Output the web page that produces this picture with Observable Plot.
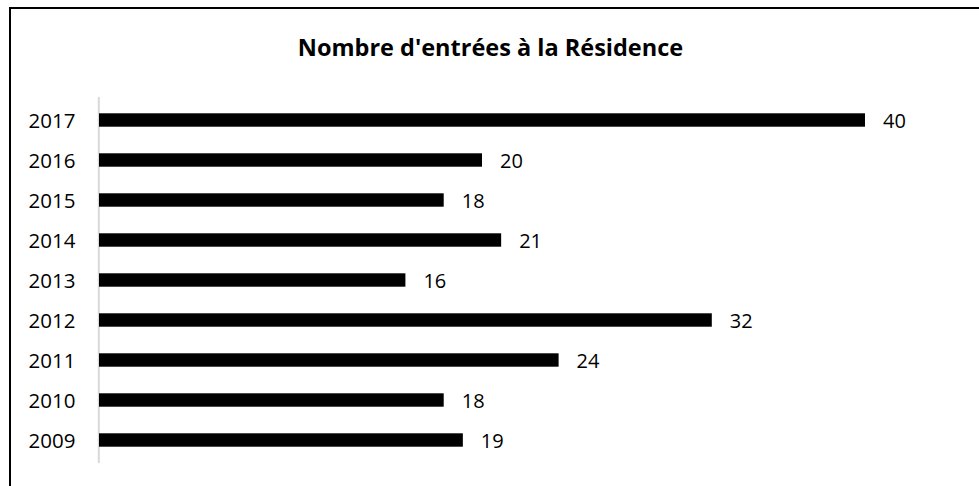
<!DOCTYPE html>
<html>
<head>
<meta charset="utf-8">
<script src="https://cdn.jsdelivr.net/npm/d3@7"></script>
<script src="https://cdn.jsdelivr.net/npm/@observablehq/plot@0.6"></script>
<style>
  html, body { margin: 0; padding: 0; background: #fff; }
  #wrap { position: relative; width: 979px; height: 486px; overflow: hidden; font-family: "Open Sans", "Liberation Sans", sans-serif; }
  #frame { position: absolute; left: 9px; top: 7px; width: 1000px; height: 520px; border: 2px solid #000; box-sizing: border-box; }
  #title { position: absolute; left: 0; top: 31px; width: 981px; text-align: center; font-weight: bold; font-size: 23.5px; color: #000; line-height: 32px; }
  #chart { position: absolute; left: 0; top: 0; }
</style>
</head>
<body>
<div id="wrap">
  <div id="frame"></div>
  <div id="chart"></div>
  <div id="title">Nombre d'entrées à la Résidence</div>
</div>
<script>
const years = ["2017", "2016", "2015", "2014", "2013", "2012", "2011", "2010", "2009"];
const values = [40, 20, 18, 21, 16, 32, 24, 18, 19];

const data = years.map((y, i) => ({year: y, value: values[i]}));

const chart = Plot.plot({
  width: 979,
  height: 486,
  marginLeft: 99,
  marginRight: 114,
  marginTop: 97,
  marginBottom: 23,
  style: {fontFamily: "'Open Sans', 'Liberation Sans', sans-serif", fontSize: "20px", background: "transparent", color: "#000"},
  x: {domain: [0, 40], axis: null},
  y: {domain: years, padding: 0, label: null},
  marks: [
    Plot.ruleX([0], {stroke: "#d9d9d9", strokeWidth: 2, dx: -0.7}),
    Plot.barX(data, {x: "value", y: "year", fill: "#000", insetTop: 13.3, insetBottom: 13.3}),
    Plot.text(data, {x: "value", y: "year", text: d => String(d.value), textAnchor: "start", dx: 17.5, dy: 1, fontSize: 20, fill: "#000"}),
    Plot.axisY({tickSize: 0, tickPadding: 24, fontSize: 20.5, dy: 1, label: null})
  ]
});
document.getElementById("chart").appendChild(chart);
</script>
</body>
</html>
